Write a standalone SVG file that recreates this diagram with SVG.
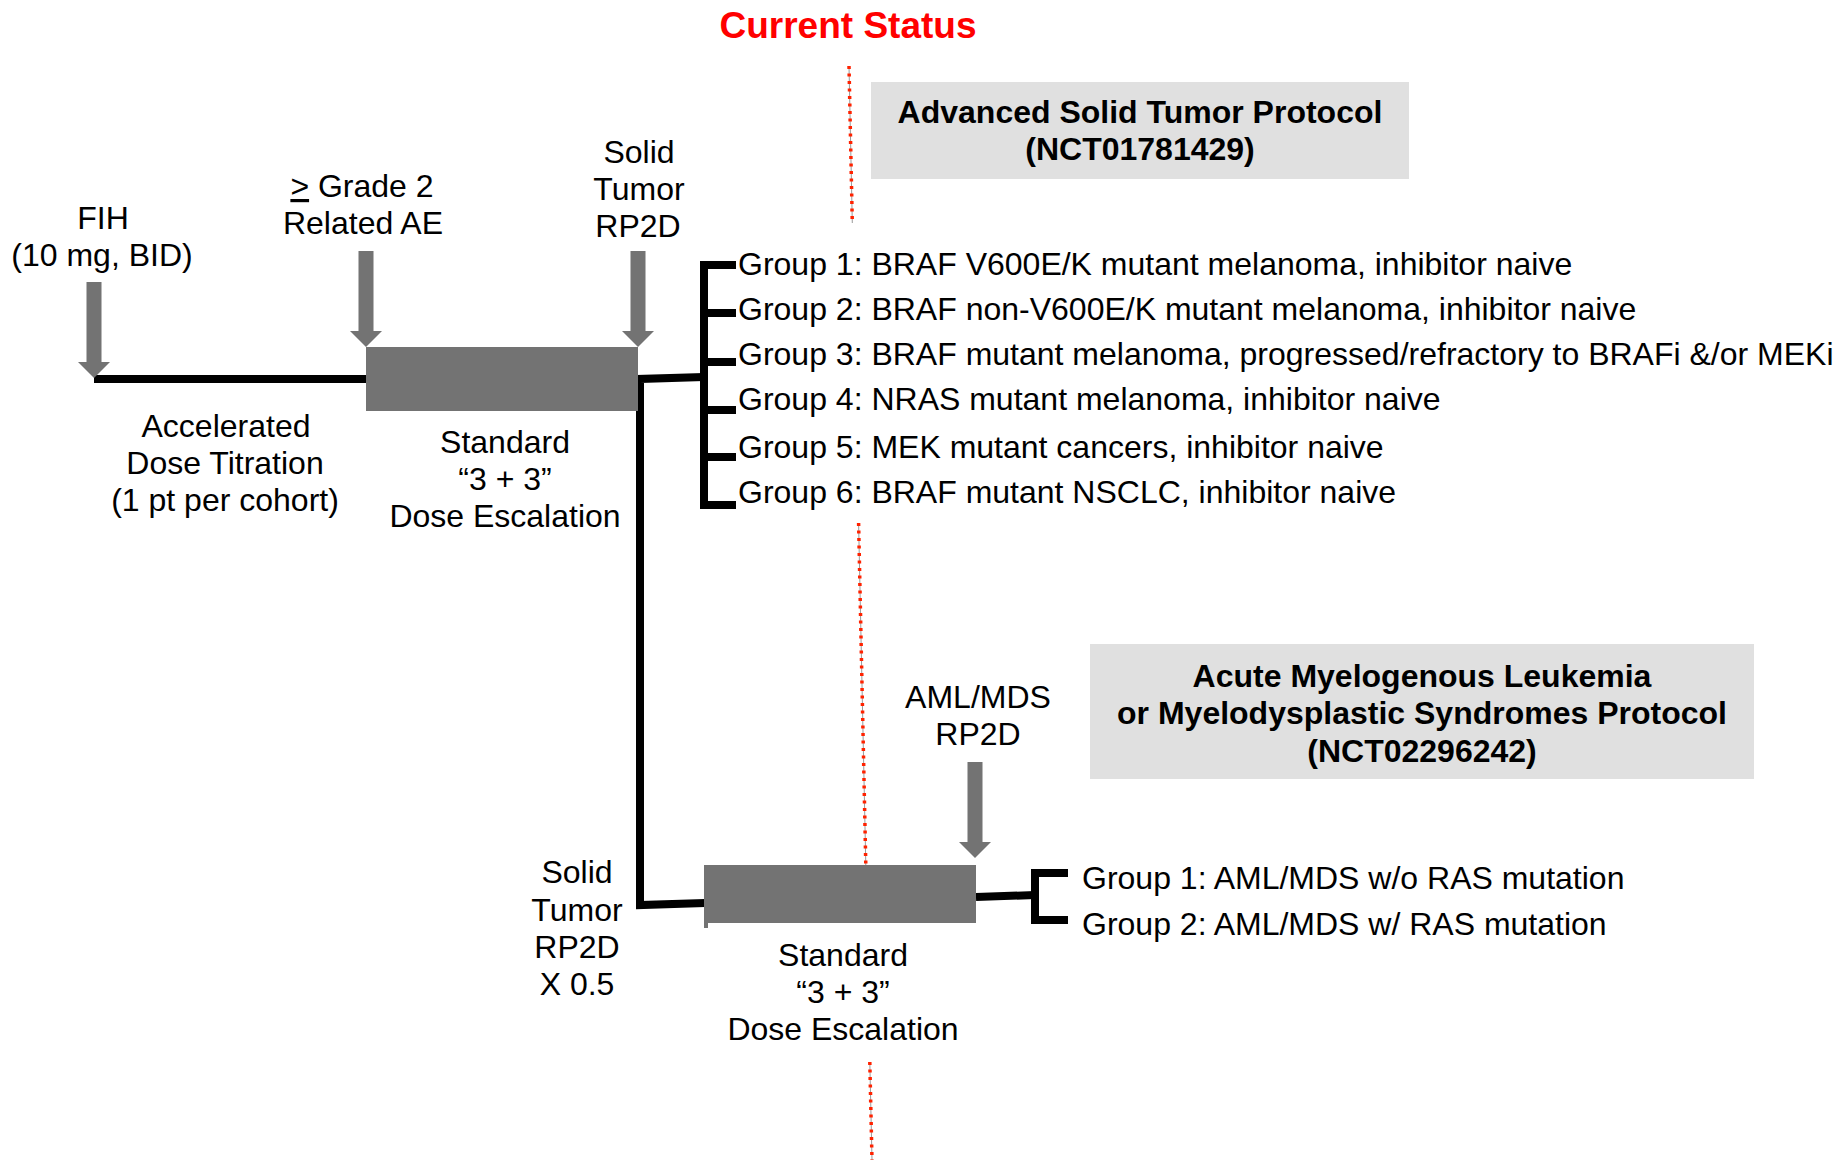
<svg xmlns="http://www.w3.org/2000/svg" xmlns:xlink="http://www.w3.org/1999/xlink" width="1836" height="1160" viewBox="0 0 1836 1160">
<style>
  text { font-family: "Liberation Sans", Arial, sans-serif; font-size: 32px; fill: #000; }
  .c { text-anchor: middle; }
  .b { font-weight: bold; }
  .title { font-weight: bold; font-size: 37px; fill: #ff0000; text-anchor: middle; }
  .bar { fill: #737373; }
  .proto { fill: #e0e0e0; }
  .arrow { fill: #737373; }
  .conn { fill: none; stroke: #000; stroke-width: 8; stroke-linejoin: miter; }
  .status-base { stroke: #9a9a9a; stroke-width: 1; fill: none; }
  .status { stroke: #ff2200; stroke-width: 3.5; stroke-dasharray: 3 4.5; fill: none; }
</style>
<defs>
  <path id="downArrow" d="M-7.5,-96 H7.5 V-16 H16 L0,0 L-16,-16 H-7.5 Z"/>
</defs>
<rect width="1836" height="1160" fill="#fff"/>

<g id="current-status">
  <text class="title" x="848" y="38">Current Status</text>
  <g id="status-line">
    <line class="status-base" x1="849" y1="66" x2="852.3" y2="223"/>
    <line class="status" x1="849" y1="66" x2="852.3" y2="223"/>
    <line class="status-base" x1="858.6" y1="523" x2="865.8" y2="865"/>
    <line class="status" x1="858.6" y1="523" x2="865.8" y2="865"/>
    <line class="status-base" x1="869.8" y1="1062" x2="872" y2="1160"/>
    <line class="status" x1="869.8" y1="1062" x2="872" y2="1160"/>
  </g>
</g>

<g id="connectors">
  <line class="conn" x1="94" y1="379" x2="366" y2="379"/>
  <path class="conn" d="M704,377 L640,379 L640,905 L705,903"/>
  <path class="conn" d="M704,265 V505"/>
  <path class="conn" d="M700,265 H736 M704,313 H736 M704,362 H736 M704,410 H736 M704,457 H736 M700,505 H736"/>
  <line class="conn" x1="976" y1="897" x2="1035" y2="895"/>
  <path class="conn" d="M1068,873 H1035 V920 H1068"/>
</g>

<g id="arrow-fih"><use xlink:href="#downArrow" class="arrow" transform="translate(94,378)"/></g>
<g id="arrow-grade2"><use xlink:href="#downArrow" class="arrow" transform="translate(366,347)"/></g>
<g id="arrow-rp2d"><use xlink:href="#downArrow" class="arrow" transform="translate(638,347)"/></g>
<g id="arrow-aml"><use xlink:href="#downArrow" class="arrow" transform="translate(975,858)"/></g>

<g id="label-fih">
  <text class="c" x="103" y="229">FIH</text>
  <text class="c" x="102" y="266">(10 mg, BID)</text>
</g>
<g id="label-grade2">
  <text class="c" x="362" y="197"><tspan text-decoration="underline">&gt;</tspan> Grade 2</text>
  <text class="c" x="363" y="234">Related AE</text>
</g>
<g id="label-rp2d-top">
  <text class="c" x="639" y="163">Solid</text>
  <text class="c" x="639" y="200">Tumor</text>
  <text class="c" x="638" y="237">RP2D</text>
</g>

<g id="phase-accelerated">
  <text class="c" x="226" y="437">Accelerated</text>
  <text class="c" x="225" y="474">Dose Titration</text>
  <text class="c" x="225" y="511">(1 pt per cohort)</text>
</g>

<g id="box-escalation-1">
  <rect class="bar" x="366" y="347" width="272" height="64"/>
  <text class="c" x="505" y="453">Standard</text>
  <text class="c" x="505" y="490">“3 + 3”</text>
  <text class="c" x="505" y="527">Dose Escalation</text>
</g>

<g id="protocol-solid">
  <rect class="proto" x="871" y="82" width="538" height="97"/>
  <text class="c b" x="1140" y="123">Advanced Solid Tumor Protocol</text>
  <text class="c b" x="1140" y="160">(NCT01781429)</text>
</g>

<g id="solid-groups">
  <text x="738" y="275">Group 1: BRAF V600E/K mutant melanoma, inhibitor naive</text>
  <text x="738" y="320">Group 2: BRAF non-V600E/K mutant melanoma, inhibitor naive</text>
  <text x="738" y="365">Group 3: BRAF mutant melanoma, progressed/refractory to BRAFi &amp;/or MEKi</text>
  <text x="738" y="410">Group 4: NRAS mutant melanoma, inhibitor naive</text>
  <text x="738" y="458">Group 5: MEK mutant cancers, inhibitor naive</text>
  <text x="738" y="503">Group 6: BRAF mutant NSCLC, inhibitor naive</text>
</g>

<g id="label-rp2d-half">
  <text class="c" x="577" y="883">Solid</text>
  <text class="c" x="577" y="921">Tumor</text>
  <text class="c" x="577" y="958">RP2D</text>
  <text class="c" x="577" y="995">X 0.5</text>
</g>

<g id="label-aml-rp2d">
  <text class="c" x="978" y="708">AML/MDS</text>
  <text class="c" x="978" y="745">RP2D</text>
</g>

<g id="box-escalation-2">
  <rect class="bar" x="704" y="865" width="272" height="58"/>
  <rect class="bar" x="704" y="923" width="4" height="5"/>
  <text class="c" x="843" y="966">Standard</text>
  <text class="c" x="843" y="1003">“3 + 3”</text>
  <text class="c" x="843" y="1040">Dose Escalation</text>
</g>

<g id="protocol-aml">
  <rect class="proto" x="1090" y="644" width="664" height="135"/>
  <text class="c b" x="1422" y="687">Acute Myelogenous Leukemia</text>
  <text class="c b" x="1422" y="724">or Myelodysplastic Syndromes Protocol</text>
  <text class="c b" x="1422" y="762">(NCT02296242)</text>
</g>

<g id="aml-groups">
  <text x="1082" y="889">Group 1: AML/MDS w/o RAS mutation</text>
  <text x="1082" y="935">Group 2: AML/MDS w/ RAS mutation</text>
</g>
</svg>
